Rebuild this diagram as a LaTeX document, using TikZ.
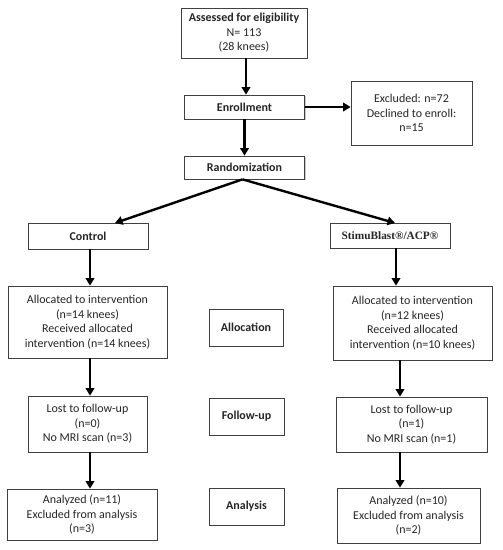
\documentclass[tikz,border=0pt]{standalone}
\usepackage{fontspec}
\setmainfont{Carlito}
\newfontfamily\stimufont{Liberation Serif}
\usetikzlibrary{arrows.meta,shadows}
\begin{document}
\begin{tikzpicture}[x=1pt,y=-1pt,
  box/.style={draw=black!75,line width=0.7pt,fill=white,align=center,inner sep=1pt,
    text=black!85,font=\fontsize{12}{14.5}\selectfont,
    drop shadow={shadow xshift=1.2pt,shadow yshift=-1.2pt,opacity=0.35,fill=black!60}},
  arr/.style={line width=2.4pt,-{Triangle[width=8.5pt,length=7.5pt]}}]
\useasboundingbox (0,0) rectangle (503,550);
\node[box,minimum width=126,minimum height=50] (assess) at (244,33)
  {\textbf{Assessed for eligibility}\\N= 113\\(28 knees)};
\node[box,minimum width=120,minimum height=24] (enroll) at (244.5,107) {\textbf{Enrollment}};
\node[box,minimum width=121,minimum height=64] (excl) at (411.5,113)
  {Excluded: n=72\\Declined to enroll:\\n=15};
\node[box,minimum width=120,minimum height=23] (rand) at (244.5,167.5) {\textbf{Randomization}};
\node[box,minimum width=120,minimum height=26] (control) at (88,236) {\textbf{Control}};
\node[box,minimum width=120,minimum height=25] (stimu) at (390,235.5) {\stimufont\fontsize{11.3}{13}\selectfont\bfseries StimuBlast®/ACP®};
\node[box,minimum width=159,minimum height=72] (allocL) at (87.5,322)
  {Allocated to intervention\\(n=14 knees)\\Received allocated\\intervention (n=14 knees)};
\node[box,minimum width=74,minimum height=37] (allocM) at (246,327.5) {\textbf{Allocation}};
\node[box,minimum width=159,minimum height=74] (allocR) at (412.5,323)
  {Allocated to intervention\\(n=12 knees)\\Received allocated\\intervention (n=10 knees)};
\node[box,minimum width=119,minimum height=56] (followL) at (87.5,424)
  {Lost to follow-up\\(n=0)\\No MRI scan (n=3)};
\node[box,minimum width=75,minimum height=37] (followM) at (246.5,416.5) {\textbf{Follow-up}};
\node[box,minimum width=151,minimum height=55] (followR) at (411.5,424.5)
  {Lost to follow-up\\(n=1)\\No MRI scan (n=1)};
\node[box,minimum width=150,minimum height=51] (analL) at (82,514.5)
  {Analyzed (n=11)\\Excluded from analysis\\(n=3)};
\node[box,minimum width=75,minimum height=37] (analM) at (246.5,506.5) {\textbf{Analysis}};
\node[box,minimum width=143,minimum height=55] (analR) at (408.5,515.5)
  {Analyzed (n=10)\\Excluded from analysis\\(n=2)};
\coordinate (cT) at (115,223);
\coordinate (sT) at (395,223);
\draw[arr] ([xshift=2]assess.south) -- ([xshift=1.5]enroll.north);
\draw[arr] (enroll.east) -- (excl.west |- enroll.east);
\draw[arr] (enroll.south) -- (rand.north);
\draw[arr] ([xshift=-2]rand.south) -- (cT);
\draw[arr] ([xshift=-2]rand.south) -- (sT);
\draw[arr] ([xshift=2]control.south) -- ([xshift=2]control.south |- allocL.north);
\draw[arr] ([xshift=6]stimu.south) -- ([xshift=6]stimu.south |- allocR.north);
\draw[arr] (allocL.south -| followL.south) ++(2.5,0) coordinate (a1) -- (a1 |- followL.north);
\draw[arr] ([xshift=2.5]followL.south) coordinate (a2) -- (a2 |- analL.north);
\draw[arr] ([xshift=-12.5]allocR.south) coordinate (a3) -- (a3 |- followR.north);
\draw[arr] ([xshift=-11.5]followR.south) coordinate (a4) -- (a4 |- analR.north);
\end{tikzpicture}
\end{document}
